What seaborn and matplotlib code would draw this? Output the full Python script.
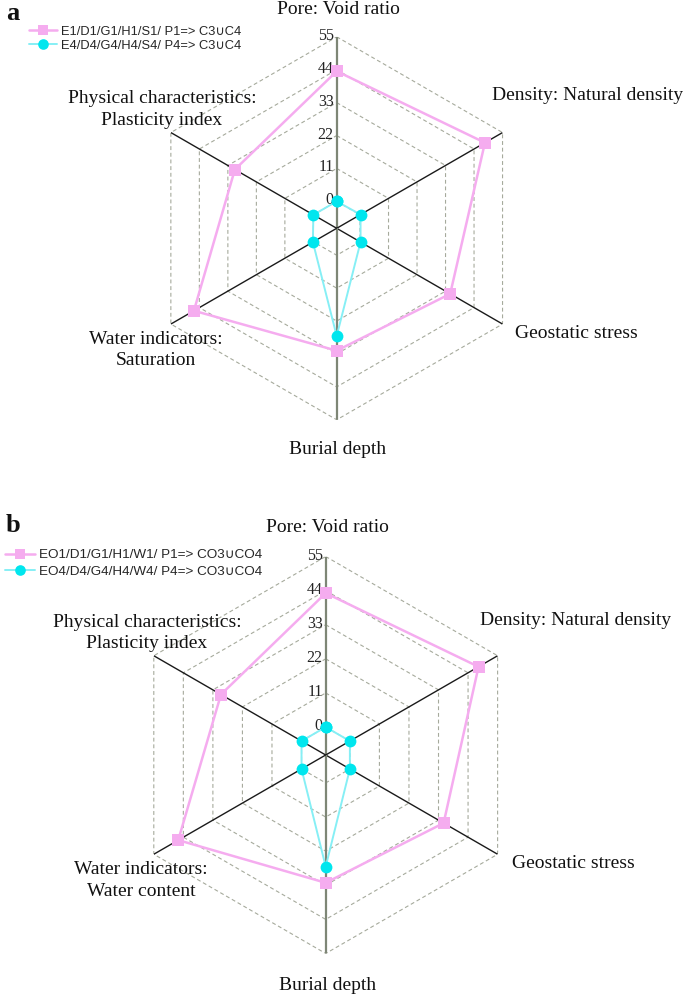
import numpy as np
import pandas as pd
import matplotlib
matplotlib.use("Agg")
import matplotlib.pyplot as plt
import matplotlib.transforms as mtrans
import seaborn as sns

# ---------------- data ----------------
categories_a = ["Pore: Void ratio", "Density: Natural density", "Geostatic stress",
                "Burial depth", "Water indicators:\nSaturation",
                "Physical characteristics:\nPlasticity index"]
categories_b = ["Pore: Void ratio", "Density: Natural density", "Geostatic stress",
                "Burial depth", "Water indicators:\nWater content",
                "Physical characteristics:\nPlasticity index"]
a_p1 = [43.5, 48.2, 34.8, 31.9, 46.1, 30.3]
a_p4 = [0.0, 0.2, 0.2, 27.0, 0.2, 0.0]
b_p1 = [43.2, 47.9, 34.9, 32.2, 45.9, 30.0]
b_p4 = [0.0, 0.0, 0.0, 27.0, 0.0, 0.0]
ticks = [0, 11, 22, 33, 44, 55]
legend_a = ["E1/D1/G1/H1/S1/ P1=> C3\u222aC4", "E4/D4/G4/H4/S4/ P4=> C3\u222aC4"]
legend_b = ["EO1/D1/G1/H1/W1/ P1=> CO3\u222aCO4", "EO4/D4/G4/H4/W4/ P4=> CO3\u222aCO4"]

# ---------------- style ----------------
sns.set_style("white")
plt.rcParams["font.family"] = ["Liberation Serif", "DejaVu Serif"]

W, H = 685, 1001
fig = plt.figure(figsize=(W / 100, H / 100), dpi=100)

PINK = "#F5ACEF"
CYAN_M = "#00E6EE"
CYAN_L = "#86EFF5"
GRID = "#A6AA9C"
RMIN = -9.0


def fx(x):
    return x / W


def fy(y):
    return 1 - y / H


def panel(cx, cy, R, cats, p1, p4, leg_labels, leg_fs, leg_pos, leg_space,
          handle_len, label_pos, letter, letter_pos):
    ax = fig.add_axes([fx(cx - R), fy(cy + R), 2 * R / W, 2 * R / H],
                      projection="polar")
    ax.set_theta_zero_location("N")
    ax.set_theta_direction(-1)
    ax.set_ylim(RMIN, 55)
    ax.grid(False)
    ax.set_xticks([])
    ax.set_yticks([])
    ax.spines["polar"].set_visible(False)
    ax.patch.set_alpha(0)

    n = len(cats)
    theta = np.arange(n) * 2 * np.pi / n
    theta_c = np.append(theta, 2 * np.pi)

    # hexagonal grid rings
    for t in ticks:
        ax.plot(theta_c, [t] * (n + 1), color=GRID, lw=0.8,
                ls=(0, (3.5, 2.5)), zorder=1)
    # radial axes
    for i, th in enumerate(theta):
        col = "#7E8676" if i in (0, n // 2) else "#1a1a1a"
        lw = 1.6 if i in (0, n // 2) else 1.0
        ax.plot([th, th], [RMIN, 55], color=col, lw=lw, zorder=2,
                solid_capstyle="butt")

    # data series
    d1 = pd.DataFrame({"theta": theta_c, "value": np.append(p1, p1[0])})
    d4 = pd.DataFrame({"theta": theta_c, "value": np.append(p4, p4[0])})
    sns.lineplot(data=d1, x="theta", y="value", sort=False, estimator=None,
                 ax=ax, color=PINK, lw=1.8, marker="s", markersize=8,
                 markerfacecolor=PINK, markeredgecolor=PINK,
                 markeredgewidth=0, label=leg_labels[0], legend=False, zorder=4)
    sns.lineplot(data=d4, x="theta", y="value", sort=False, estimator=None,
                 ax=ax, color=CYAN_L, lw=1.4, marker="o", markersize=8.5,
                 markerfacecolor=CYAN_M, markeredgecolor=CYAN_M,
                 markeredgewidth=0, label=leg_labels[1], legend=False, zorder=5)
    ax.set_xlabel("")
    ax.set_ylabel("")

    # radial tick labels along the top axis
    off = mtrans.offset_copy(ax.transData, fig=fig, x=-3, y=1, units="dots")
    for t in ticks:
        ax.text(0, t, str(t), transform=off, ha="right", va="center",
                fontsize=11.5, color="#222222", zorder=3)

    # category labels
    for txt, (x, y) in zip(cats, label_pos):
        fig.text(fx(x), fy(y), txt, ha="center", va="center",
                 multialignment="center", fontsize=14, color="#111111",
                 linespacing=1.38)

    # panel letter
    fig.text(fx(letter_pos[0]), fy(letter_pos[1]), letter, fontsize=19,
             fontweight="bold", ha="left", va="center", color="#111111")

    # legend
    h, l = ax.get_legend_handles_labels()
    fig.legend(h, l, loc="upper left",
               bbox_to_anchor=(fx(leg_pos[0]), fy(leg_pos[1])),
               frameon=False, borderpad=0, borderaxespad=0,
               handlelength=handle_len, handletextpad=0.35,
               labelspacing=leg_space, markerscale=0.9,
               prop={"family": ["Liberation Sans", "DejaVu Sans"],
                     "size": leg_fs})
    return ax


panel(336.7, 228.3, 191.5, categories_a, a_p1, a_p4, legend_a, 9.3,
      (28.5, 25.5), 0.15, 2.2,
      [(338, 9), (588, 96), (576.5, 333), (338, 450), (156, 350),
       (162, 109.5)],
      "a", (6, 13))

panel(325.7, 755, 198.5, categories_b, b_p1, b_p4, legend_b, 9.7,
      (5, 549), 0.3, 2.2,
      [(327, 527), (575.4, 620.7), (573, 863), (328, 985), (141, 880.5),
       (147, 633)],
      "b", (6, 526))

fig.savefig("out.png", dpi=100)
